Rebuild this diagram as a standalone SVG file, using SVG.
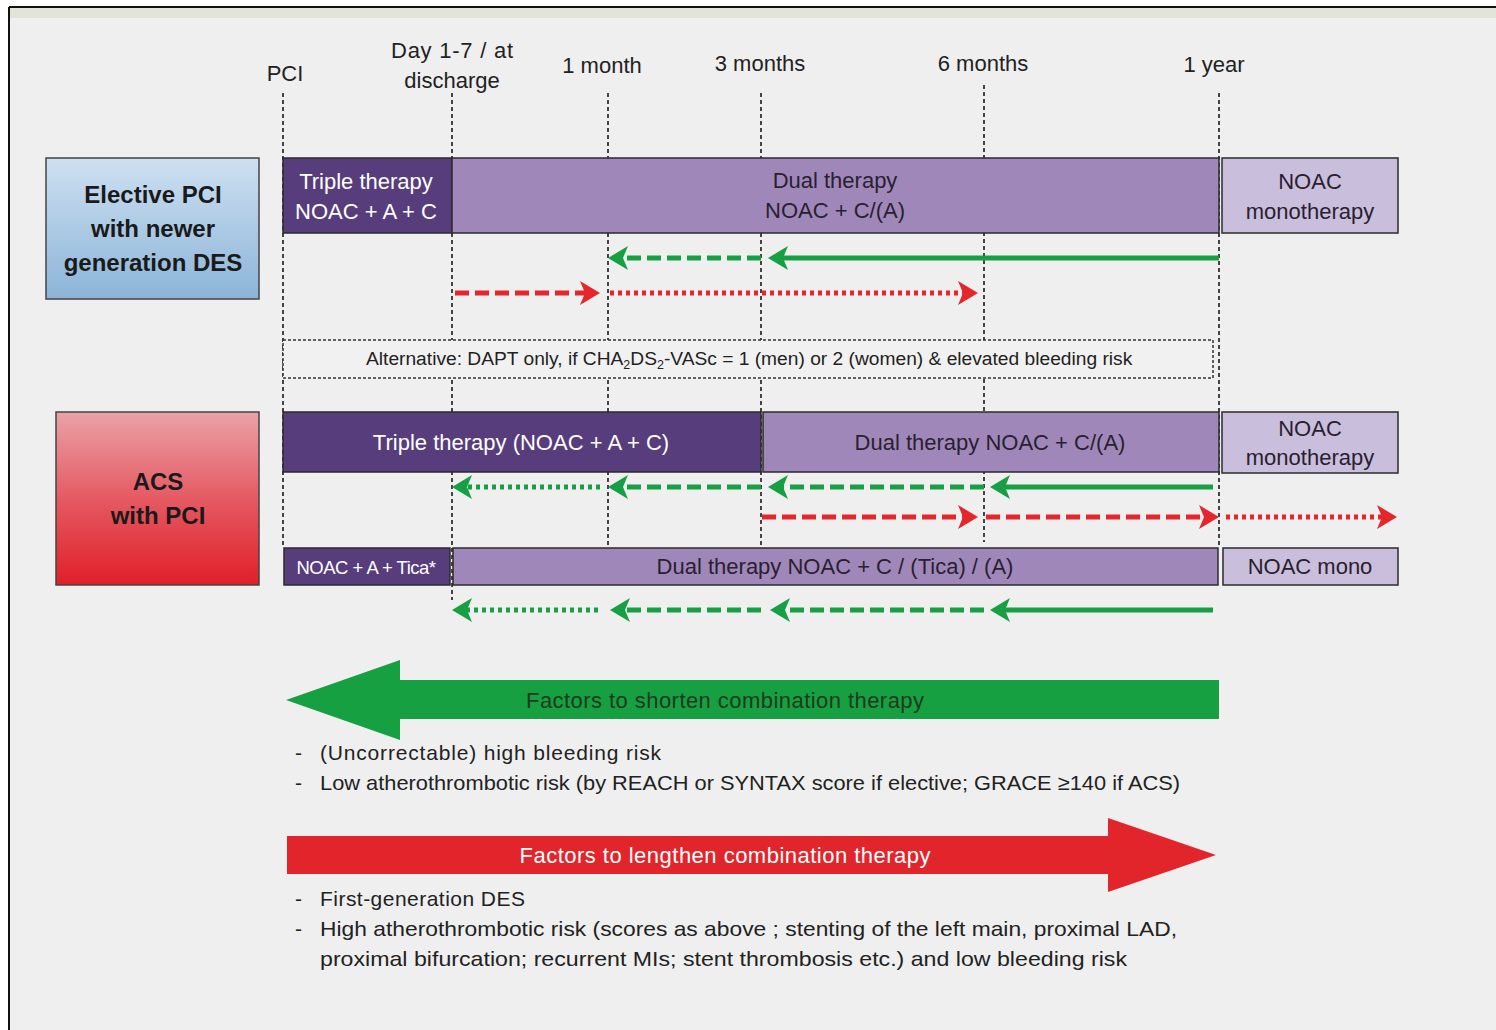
<svg xmlns="http://www.w3.org/2000/svg" width="1496" height="1030" viewBox="0 0 1496 1030">
<style>
text{font-family:"Liberation Sans","Open Sans",Arial,sans-serif;}
.lbl{font-size:22px;fill:#222;text-anchor:middle;}
.wt{font-size:22px;fill:#fff;text-anchor:middle;}
.dk{font-size:22px;fill:#2a2030;text-anchor:middle;}
.bul{font-size:21px;fill:#222;}
.bar{stroke:#2b2b2b;stroke-width:1.5;}
.c1{fill:#573d7c;}
.c2{fill:#9f88b9;}
.c3{fill:#c9bedb;}
.vl{stroke:#444;stroke-width:2;stroke-dasharray:4 3;fill:none;}
.g{stroke:#17a043;stroke-width:5;fill:none;}
.r{stroke:#e5262b;stroke-width:5;fill:none;}
.dash{stroke-dasharray:14 6;}
.dot{stroke-dasharray:4 4;}
.gh{marker-end:url(#ga);}
.rh{marker-end:url(#ra);}
</style>
<defs>
<marker id="ga" markerUnits="userSpaceOnUse" markerWidth="22" markerHeight="26" refX="8" refY="12" orient="auto" overflow="visible">
<path d="M0,0 L20,12 L0,24 L5,12 Z" fill="#17a043"/>
</marker>
<marker id="ra" markerUnits="userSpaceOnUse" markerWidth="22" markerHeight="26" refX="8" refY="12" orient="auto" overflow="visible">
<path d="M0,0 L20,12 L0,24 L5,12 Z" fill="#e5262b"/>
</marker>
<linearGradient id="blue" x1="0" y1="0" x2="0" y2="1">
<stop offset="0" stop-color="#cde0f1"/>
<stop offset="1" stop-color="#8cb4d8"/>
</linearGradient>
<linearGradient id="red" x1="0" y1="0" x2="0" y2="1">
<stop offset="0" stop-color="#eaa2a8"/>
<stop offset="0.5" stop-color="#e55a63"/>
<stop offset="1" stop-color="#e01f28"/>
</linearGradient>
</defs>

<rect x="0" y="0" width="1496" height="1030" fill="#ffffff"/>
<rect x="9" y="7" width="1487" height="1023" fill="#efefef"/>
<rect x="10" y="8" width="1486" height="10" fill="#e2e4d8"/>
<line x1="9" y1="7" x2="1496" y2="7" stroke="#111" stroke-width="2"/>
<line x1="9" y1="7" x2="9" y2="1030" stroke="#111" stroke-width="2"/>

<g id="timeline-labels">
<text class="lbl" x="285" y="81">PCI</text>
<text class="lbl" x="452" y="58" textLength="122">Day 1-7  / at</text>
<text class="lbl" x="452" y="88">discharge</text>
<text class="lbl" x="602" y="73">1 month</text>
<text class="lbl" x="760" y="71">3 months</text>
<text class="lbl" x="983" y="71">6 months</text>
<text class="lbl" x="1214" y="72">1 year</text>
</g>

<g id="timeline-gridlines">
<line class="vl" x1="283" y1="93" x2="283" y2="548"/>
<line class="vl" x1="452" y1="93" x2="452" y2="600"/>
<line class="vl" x1="608" y1="93" x2="608" y2="548"/>
<line class="vl" x1="761" y1="93" x2="761" y2="548"/>
<line class="vl" x1="984" y1="85" x2="984" y2="542"/>
<line class="vl" x1="1219" y1="93" x2="1219" y2="548"/>
</g>

<g id="elective-pci">
<rect x="46" y="158" width="213" height="141" fill="url(#blue)" stroke="#444" stroke-width="1.5"/>
<text x="153" y="203" font-size="24" font-weight="bold" fill="#1a1a1a" text-anchor="middle">Elective PCI</text>
<text x="153" y="237" font-size="24" font-weight="bold" fill="#1a1a1a" text-anchor="middle">with newer</text>
<text x="153" y="271" font-size="24" font-weight="bold" fill="#1a1a1a" text-anchor="middle">generation DES</text>
</g>

<g id="e-triple">
<rect class="bar c1" x="283" y="158" width="169" height="75"/>
<text class="wt" x="366" y="189">Triple therapy</text>
<text class="wt" x="366" y="219">NOAC + A + C</text>
</g>
<g id="e-dual">
<rect class="bar c2" x="452" y="158" width="767" height="75"/>
<text class="dk" x="835" y="188">Dual therapy</text>
<text class="dk" x="835" y="218">NOAC + C/(A)</text>
</g>
<g id="e-mono">
<rect class="bar c3" x="1222" y="158" width="176" height="75"/>
<text class="dk" x="1310" y="189">NOAC</text>
<text class="dk" x="1310" y="219">monotherapy</text>
</g>

<g id="alternative">
<rect x="283" y="340" width="930" height="38" fill="#f1f1f1" stroke="#333" stroke-width="1.5" stroke-dasharray="3 2"/>
<text x="366" y="365" font-size="19.2" fill="#222">Alternative: DAPT only, if CHA<tspan font-size="12.5" dy="4">2</tspan><tspan dy="-4">DS</tspan><tspan font-size="12.5" dy="4">2</tspan><tspan dy="-4">-VASc = 1 (men) or 2 (women) &amp; elevated bleeding risk</tspan></text>
</g>

<g id="acs-pci">
<rect x="56" y="412" width="203" height="173" fill="url(#red)" stroke="#444" stroke-width="1.5"/>
<text x="158" y="490" font-size="24" font-weight="bold" fill="#1a1a1a" text-anchor="middle">ACS</text>
<text x="158" y="524" font-size="24" font-weight="bold" fill="#1a1a1a" text-anchor="middle">with PCI</text>
</g>

<g id="a-triple">
<rect class="bar c1" x="283" y="412" width="478" height="60"/>
<text class="wt" x="521" y="450">Triple therapy (NOAC + A + C)</text>
</g>
<g id="a-dual">
<rect class="bar c2" x="763" y="412" width="456" height="60"/>
<text class="dk" x="990" y="450">Dual therapy NOAC + C/(A)</text>
</g>
<g id="a-mono">
<rect class="bar c3" x="1222" y="412" width="176" height="61"/>
<text class="dk" x="1310" y="436">NOAC</text>
<text class="dk" x="1310" y="465">monotherapy</text>
</g>

<g id="t-triple">
<rect class="bar c1" x="284" y="548" width="166" height="37"/>
<text x="366" y="574" font-size="18.5" fill="#fff" text-anchor="middle" letter-spacing="-0.5">NOAC + A + Tica*</text>
</g>
<g id="t-dual">
<rect class="bar c2" x="453" y="548" width="765" height="37"/>
<text class="dk" x="835" y="574">Dual therapy NOAC + C / (Tica) / (A)</text>
</g>
<g id="t-mono">
<rect class="bar c3" x="1223" y="548" width="175" height="37"/>
<text class="dk" x="1310" y="574">NOAC mono</text>
</g>

<g id="connectors">
<line class="g dash gh" x1="761" y1="258" x2="620" y2="258"/>
<line class="g gh" x1="1219" y1="258" x2="780" y2="258"/>
<line class="r dash rh" x1="455" y1="293" x2="588" y2="293"/>
<line class="r dot rh" x1="610" y1="293" x2="966" y2="293"/>

<line class="g dot gh" x1="600" y1="487" x2="464" y2="487"/>
<line class="g dash gh" x1="761" y1="487" x2="620" y2="487"/>
<line class="g dash gh" x1="984" y1="487" x2="780" y2="487"/>
<line class="g gh" x1="1213" y1="487" x2="1002" y2="487"/>

<line class="r dash rh" x1="762" y1="517" x2="966" y2="517"/>
<line class="r dash rh" x1="986" y1="517" x2="1207" y2="517"/>
<line class="r dot rh" x1="1226" y1="517" x2="1385" y2="517"/>

<line class="g dot gh" x1="598" y1="610" x2="464" y2="610"/>
<line class="g dash gh" x1="761" y1="610" x2="622" y2="610"/>
<line class="g dash gh" x1="984" y1="610" x2="782" y2="610"/>
<line class="g gh" x1="1213" y1="610" x2="1002" y2="610"/>
</g>

<g id="shorten">
<polygon points="286,700 400,660 400,680 1219,680 1219,719 400,719 400,740" fill="#16a041"/>
<text x="725" y="708" font-size="22" fill="#1f3a1f" text-anchor="middle" textLength="398">Factors to shorten combination therapy</text>
<text class="bul" x="295" y="760">-</text>
<text class="bul" x="320" y="760" textLength="341">(Uncorrectable) high bleeding risk</text>
<text class="bul" x="295" y="790">-</text>
<text class="bul" x="320" y="790" textLength="860" lengthAdjust="spacingAndGlyphs">Low atherothrombotic risk (by REACH or SYNTAX score if elective; GRACE ≥140 if ACS)</text>
</g>

<g id="lengthen">
<polygon points="287,836 1108,836 1108,818 1216,855 1108,892 1108,874 287,874" fill="#e2252b"/>
<text x="725" y="863" font-size="22" fill="#fff" text-anchor="middle" textLength="411">Factors to lengthen combination therapy</text>
<text class="bul" x="295" y="906">-</text>
<text class="bul" x="320" y="906" textLength="205">First-generation DES</text>
<text class="bul" x="295" y="936">-</text>
<text class="bul" x="320" y="936" textLength="857" lengthAdjust="spacingAndGlyphs">High atherothrombotic risk (scores as above ; stenting of the left main, proximal LAD,</text>
<text class="bul" x="320" y="966" textLength="807" lengthAdjust="spacingAndGlyphs">proximal bifurcation; recurrent MIs; stent thrombosis etc.) and low bleeding risk</text>
</g>
</svg>
